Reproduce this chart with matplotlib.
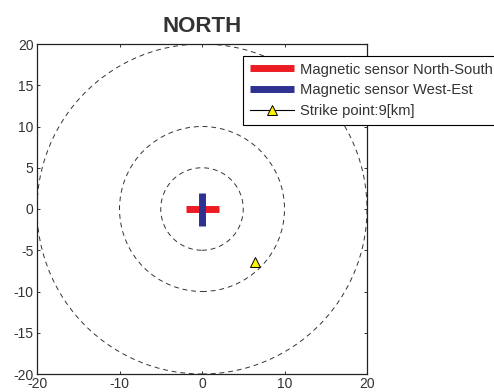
import matplotlib
matplotlib.use("Agg")
import matplotlib.pyplot as plt
from matplotlib.patches import Circle

plt.rcParams['font.family'] = ['Liberation Sans', 'DejaVu Sans']
plt.rcParams['axes.unicode_minus'] = False

# data
radii = [5, 10, 20]
ns_x = [-2, 2]
ns_y = [0, 0]
we_x = [0, 0]
we_y = [-2, 2]
strike_x = [6.4]
strike_y = [-6.4]
strike_km = 9
ticks = [-20, -10, 0, 10, 20]
yticks = [-20, -15, -10, -5, 0, 5, 10, 15, 20]

fig = plt.figure(figsize=(4.94, 3.92), dpi=100)
ax = fig.add_axes([37/494, 18/392, 330/494, 330/392])

for r in radii:
  ax.add_patch(Circle((0, 0), r, fill=False, ls=(0, (5, 4)), lw=0.7, ec='#333333'))

ax.plot(ns_x, ns_y, color='#ed1c24', lw=5, solid_capstyle='butt', label='Magnetic sensor North-South')
ax.plot(we_x, we_y, color='#2e3192', lw=5, solid_capstyle='butt', label='Magnetic sensor West-Est')
ax.plot(strike_x, strike_y, color='black', lw=0.8, marker='^', ms=7, mfc='#fff200', mec='black', mew=0.7,
        label='Strike point:%d[km]' % strike_km)

ax.set_xlim(-20, 20)
ax.set_ylim(-20, 20)
ax.set_xticks(ticks)
ax.set_yticks(yticks)
ax.tick_params(direction='in', top=True, right=True, length=2.5, width=0.7, labelsize=10,
               colors='#333333', pad=2.5)
for s in ax.spines.values():
  s.set_linewidth(0.9)
  s.set_color('#222222')

ax.set_title('NORTH', fontsize=16, fontweight='bold', color='#333333', pad=9)

leg = ax.legend(loc='upper left', bbox_to_anchor=(243/494, 1 - 56/392), bbox_transform=fig.transFigure,
                fontsize=10.6, handlelength=3.0, labelspacing=0.45, borderpad=0.45, handletextpad=0.45,
                fancybox=False, framealpha=1, edgecolor='black', borderaxespad=0)
leg.get_frame().set_linewidth(0.8)
for t in leg.get_texts():
  t.set_color('#333333')

fig.savefig('out.png', dpi=100)
